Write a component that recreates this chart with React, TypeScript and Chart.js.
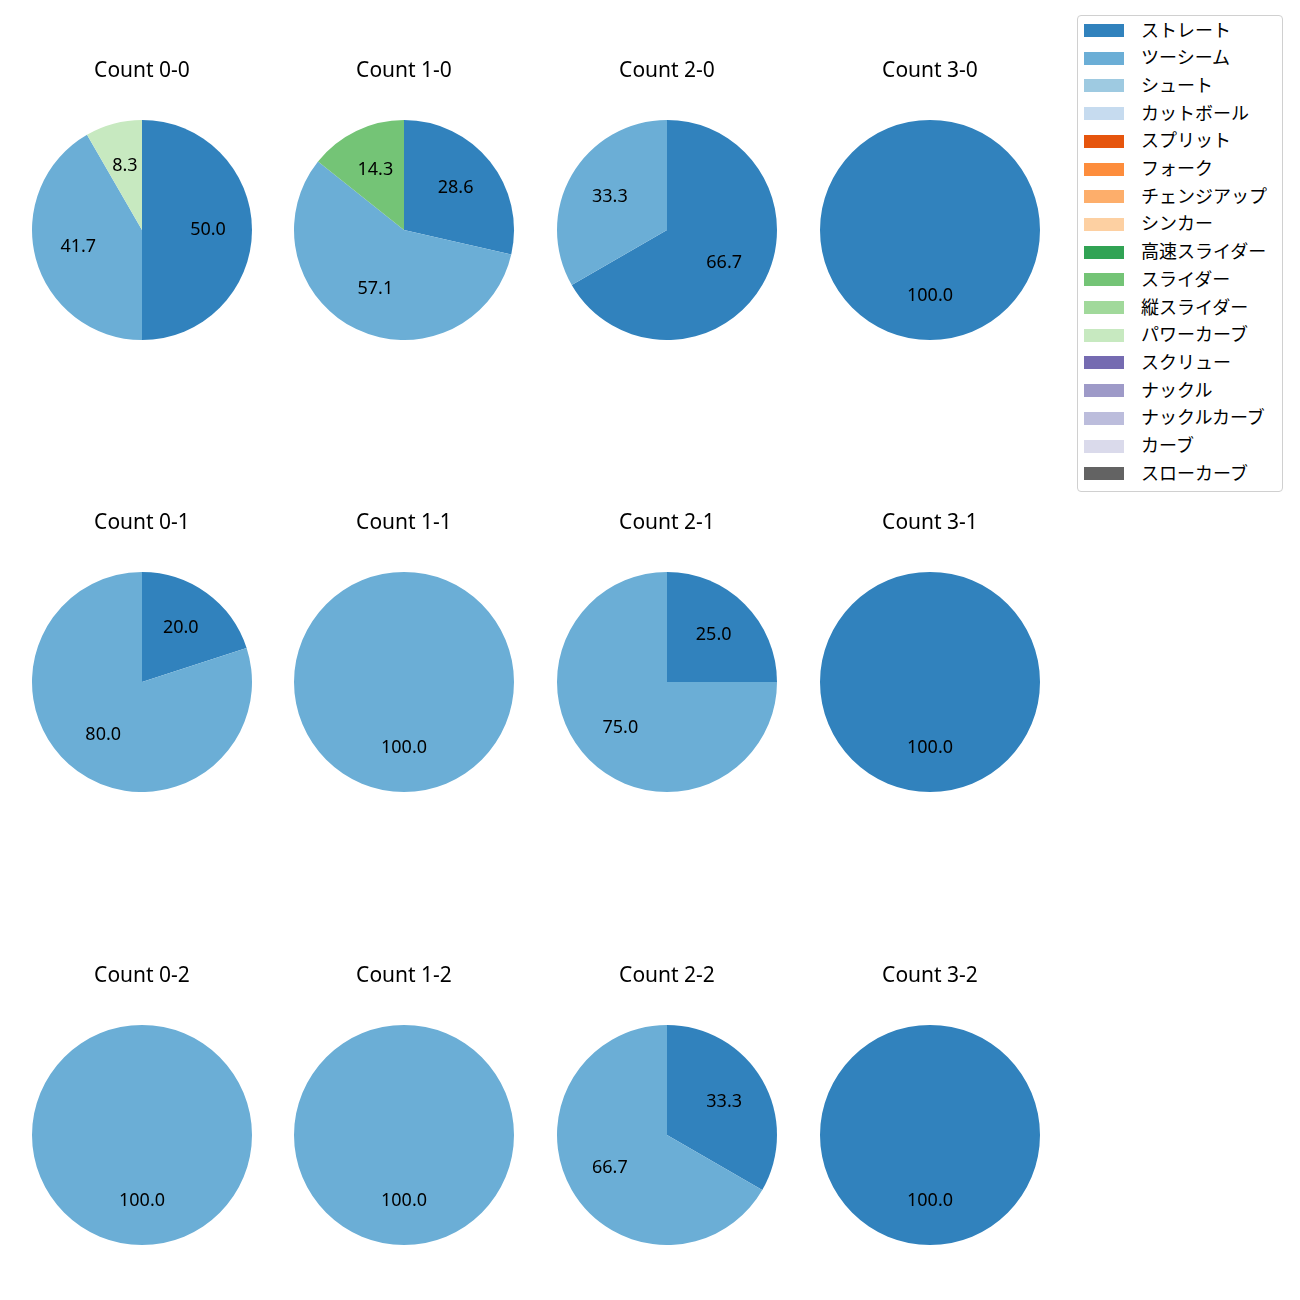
import React, { useEffect, useRef } from "react";
import { Chart, registerables } from "chart.js";

Chart.register(...registerables);

const FONT = "'Noto Sans', 'Noto Sans CJK JP', sans-serif";
const CJK_FONT = "'Noto Sans CJK JP', 'Noto Sans', sans-serif";

const pitchTypes = [
  "ストレート", "ツーシーム", "シュート", "カットボール", "スプリット", "フォーク",
  "チェンジアップ", "シンカー", "高速スライダー", "スライダー", "縦スライダー",
  "パワーカーブ", "スクリュー", "ナックル", "ナックルカーブ", "カーブ", "スローカーブ",
];
const pitchColors = [
  "#3182bd", "#6baed6", "#9ecae1", "#c6dbef", "#e6550d", "#fd8d3c",
  "#fdae6b", "#fdd0a2", "#31a354", "#74c476", "#a1d99b",
  "#c7e9c0", "#756bb1", "#9e9ac8", "#bcbddc", "#dadaeb", "#636363",
];

const countLabels = [
  "Count 0-0", "Count 1-0", "Count 2-0", "Count 3-0",
  "Count 0-1", "Count 1-1", "Count 2-1", "Count 3-1",
  "Count 0-2", "Count 1-2", "Count 2-2", "Count 3-2",
];

// pitch counts per count situation (same order as countLabels)
const straight = [6, 2, 2, 1, 1, 0, 1, 1, 0, 0, 1, 1];
const twoSeam = [5, 4, 1, 0, 4, 1, 3, 0, 1, 1, 2, 0];
const slider = [0, 1, 0, 0, 0, 0, 0, 0, 0, 0, 0, 0];
const powerCurve = [1, 0, 0, 0, 0, 0, 0, 0, 0, 0, 0, 0];

const seriesByPitch: Record<string, number[]> = {
  "ストレート": straight,
  "ツーシーム": twoSeam,
  "スライダー": slider,
  "パワーカーブ": powerCurve,
};

const colX = [142, 404, 667, 930];
const rowY = [230, 682, 1135];
const R = 110;

const pctLabels = {
  id: "pctLabels",
  afterDatasetsDraw(chart: any) {
    const ctx = chart.ctx;
    const meta = chart.getDatasetMeta(0);
    const data = chart.data.datasets[0].data as number[];
    const total = data.reduce((a, b) => a + b, 0);
    ctx.save();
    ctx.font = `18px ${FONT}`;
    ctx.fillStyle = "#000";
    ctx.textAlign = "center";
    ctx.textBaseline = "middle";
    meta.data.forEach((arc: any, i: number) => {
      const p = arc.getProps(["x", "y", "startAngle", "endAngle", "outerRadius"], true);
      const mid = (p.startAngle + p.endAngle) / 2;
      const r = p.outerRadius * 0.6;
      const txt = ((data[i] / total) * 100).toFixed(1);
      ctx.fillText(txt, p.x + Math.cos(mid) * r, p.y + Math.sin(mid) * r - 0.5);
    });
    ctx.restore();
  },
};

function PieCell({ idx }: { idx: number }) {
  const ref = useRef<HTMLCanvasElement>(null);
  useEffect(() => {
    const labels: string[] = [];
    const values: number[] = [];
    const colors: string[] = [];
    pitchTypes.forEach((p, i) => {
      const s = seriesByPitch[p];
      if (s && s[idx] > 0) {
        labels.push(p);
        values.push(s[idx]);
        colors.push(pitchColors[i]);
      }
    });
    const chart = new Chart(ref.current!, {
      type: "pie",
      data: {
        labels,
        datasets: [{ data: values, backgroundColor: colors, borderWidth: 0, hoverOffset: 0 }],
      },
      options: {
        responsive: false,
        animation: false,
        events: [],
        layout: { padding: 0 },
        plugins: {
          legend: { display: false },
          tooltip: { enabled: false },
          title: {
            display: true,
            text: countLabels[idx],
            color: "#000",
            font: { family: FONT, size: 21, weight: "normal", lineHeight: 1.2 },
            padding: { top: 8, bottom: 36.8 },
          },
        },
      },
      plugins: [pctLabels],
    });
    return () => chart.destroy();
  }, [idx]);
  const cx = colX[idx % 4];
  const cy = rowY[Math.floor(idx / 4)];
  return (
    <canvas
      ref={ref}
      width={240}
      height={290}
      style={{ position: "absolute", left: cx - 120, top: cy - R - 70, width: 240, height: 290 }}
    />
  );
}

function Legend() {
  return (
    <div
      style={{
        position: "absolute",
        left: 1077,
        top: 15,
        width: 204,
        height: 475,
        border: "1px solid #d0d0d0",
        borderRadius: 4,
        background: "#fff",
        fontFamily: CJK_FONT,
        fontSize: 18,
        color: "#000",
      }}
    >
      {pitchTypes.map((p, i) => (
        <div
          key={p}
          style={{ position: "absolute", left: 0, top: 8 + i * 27.7, height: 27.7, width: 204 }}
        >
          <div
            style={{
              position: "absolute",
              left: 6,
              top: 0,
              width: 40,
              height: 13,
              background: pitchColors[i],
            }}
          />
          <div style={{ position: "absolute", left: 63, top: -7.5, lineHeight: "24px", whiteSpace: "nowrap" }}>
            {p}
          </div>
        </div>
      ))}
    </div>
  );
}

export default function App() {
  return (
    <div style={{ position: "absolute", left: 0, top: 0, width: 1300, height: 1300, background: "#fff" }}>
      {countLabels.map((_, i) => (
        <PieCell key={i} idx={i} />
      ))}
      <Legend />
    </div>
  );
}
